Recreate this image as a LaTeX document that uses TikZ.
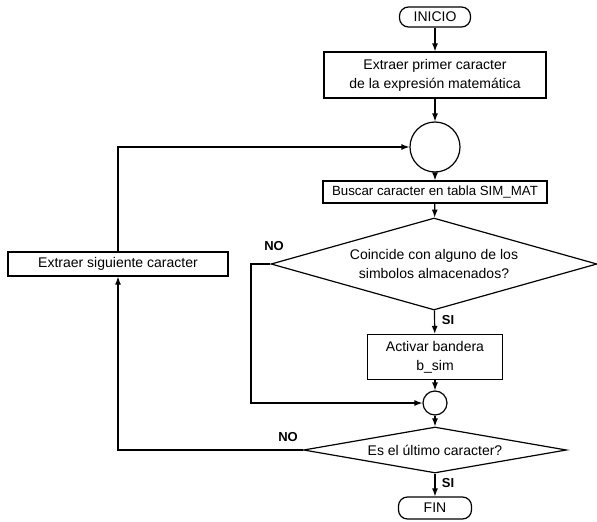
\documentclass[tikz,border=0pt]{standalone}
\usepackage{fontspec}
\setmainfont{Liberation Sans}
\usetikzlibrary{shapes.geometric,arrows.meta}

\begin{document}
\begin{tikzpicture}[x=1pt,y=-1pt,line width=1.2pt,
  font=\fontsize{14}{19}\selectfont,
  flow/.style={-{Latex[length=8pt,width=6pt]}},
  procbox/.style={draw,rectangle,inner sep=0pt,align=center},
  term/.style={draw,rectangle,rounded corners=9pt,inner sep=0pt},
  junction/.style={draw,circle,inner sep=0pt},
  decision/.style={draw,diamond,inner sep=0pt,align=center},
  tag/.style={inner sep=0pt,font=\fontsize{13}{15}\selectfont\bfseries}]
\useasboundingbox (0,0) rectangle (597,522);

% main column
\node[term,minimum width=71pt,minimum height=20pt] (ini) at (435,17) {INICIO};
\node[procbox,minimum width=222pt,minimum height=46pt] (b1) at (435,75)
  {Extraer primer caracter\\de la expresión matemática};
\node[junction,minimum size=50pt] (c1) at (435,147) {};
\node[procbox,minimum width=224pt,minimum height=22pt,font=\fontsize{13.3}{16}\selectfont] (b2) at (435,192)
  {Buscar caracter en tabla SIM\_MAT};
\node[decision,aspect=3.5,minimum width=326pt,minimum height=92pt] (d1) at (434,264)
  {Coincide con alguno de los\\simbolos almacenados?};
\node[procbox,minimum width=135pt,minimum height=45pt] (b3) at (435,357)
  {Activar bandera\\b\_sim};
\node[junction,minimum size=24pt] (c2) at (435,403) {};
\node[decision,aspect=5.7,minimum width=263pt,minimum height=46pt] (d2) at (435,450)
  {Es el último caracter?};
\node[term,minimum width=73pt,minimum height=22pt] (fin) at (435,508) {FIN};

% loop-back step
\node[procbox,minimum width=220pt,minimum height=24pt] (b4) at (118,264)
  {Extraer siguiente caracter};

% branch labels
\node[tag] (no1) at (274,246) {NO};
\node[tag] (si1) at (448,320) {SI};
\node[tag] (no2) at (288,437) {NO};
\node[tag] (si2) at (448,483) {SI};

\coordinate (n1) at (251,264);

% connectors
\draw[flow] (ini) -- (b1);
\draw[flow] (b1) -- (c1);
\draw[flow] (c1) -- (b2);
\draw[flow] (b2) -- (d1);
\draw[flow] (d1) -- (b3);
\draw[flow] (b3) -- (c2);
\draw[flow] (c2) -- (d2);
\draw[flow] (d2) -- (fin);
\draw[flow] (d1.west) -- (n1) |- (c2.west);
\draw[flow] (d2.west) -| (b4.south);
\draw[flow] (b4.north) |- (c1.west);
\end{tikzpicture}
\end{document}
